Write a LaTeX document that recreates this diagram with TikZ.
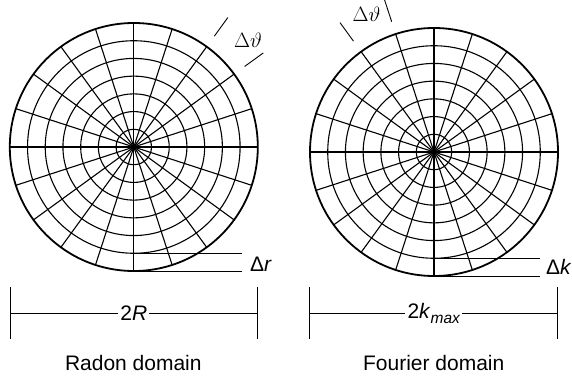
\documentclass[tikz,border=0pt]{standalone}
\usepackage{fontspec}
\setsansfont{Liberation Sans}
\begin{document}
\begin{tikzpicture}[x=1pt,y=1pt,
  grid/.style={line width=1.1pt},
  rim/.style={line width=1.8pt},
  dim/.style={line width=0.9pt},
  tick/.style={line width=0.9pt},
  sanslbl/.style={font=\sffamily\fontsize{21}{25}\selectfont, inner sep=0pt},
  mathlbl/.style={font=\fontsize{20.5}{24}\selectfont, inner sep=0pt},
  dimlbl/.style={sanslbl, fill=white, inner xsep=2pt, inner ysep=0pt}]
\useasboundingbox (0,0) rectangle (572,378);
\coordinate (cL) at (133.8,231);
\coordinate (cR) at (434,226);
% polar grids
\foreach \c in {cL,cR}{
  \foreach \i in {1,...,6} \draw[grid] (\c) circle ({\i*124pt/7});
  \foreach \a in {0,18,...,162}
    \draw[grid] ([shift={(\a:124pt)}]\c) -- ([shift={(\a+180:124pt)}]\c);
  \draw[rim] (\c) circle (124pt);
}
% Delta theta ticks, left
\draw[tick] ([shift={(54:137pt)}]cL) -- ([shift={(54:160pt)}]cL);
\draw[tick] ([shift={(36:137pt)}]cL) -- ([shift={(36:160pt)}]cL);
\node[mathlbl] (dthL) at (248,338) {$\Delta\vartheta$};
% Delta theta ticks, right
\draw[tick] ([shift={(126:137pt)}]cR) -- ([shift={(126:160pt)}]cR);
\draw[tick] ([shift={(108:137pt)}]cR) -- ([shift={(108:160pt)}]cR);
\node[mathlbl] (dthR) at (366.7,364) {$\Delta\vartheta$};
% Delta r lines
\coordinate (rL1a) at (133.8,107);     \coordinate (rL1b) at (242,107);
\coordinate (rL2a) at (133.8,124.7);   \coordinate (rL2b) at (242,124.7);
\draw[dim] (rL1a) -- (rL1b);
\draw[dim] (rL2a) -- (rL2b);
\node[sanslbl, anchor=west] (dr) at (250,114) {Δ\textit{r}};
% Delta k lines
\coordinate (kR1a) at (434,102);     \coordinate (kR1b) at (540,102);
\coordinate (kR2a) at (434,119.7);   \coordinate (kR2b) at (540,119.7);
\draw[dim] (kR1a) -- (kR1b);
\draw[dim] (kR2a) -- (kR2b);
\node[sanslbl, anchor=west] (dk) at (546,111) {Δ\textit{k}};
% dimension 2R
\coordinate (bL1t) at (10,90.7);   \coordinate (bL1b) at (10,39);
\coordinate (bL2t) at (257.7,90.7); \coordinate (bL2b) at (257.7,39);
\coordinate (bL1m) at (10,65);     \coordinate (bL2m) at (257.7,65);
\draw[dim] (bL1t) -- (bL1b);
\draw[dim] (bL2t) -- (bL2b);
\node[dimlbl] (twoR) at (133.8,65) {2\textit{R}};
\draw[dim] (bL1m) -- (twoR.west);
\draw[dim] (twoR.east) -- (bL2m);
% dimension 2k_max
\coordinate (bR1t) at (309.7,90.7);  \coordinate (bR1b) at (309.7,39);
\coordinate (bR2t) at (557.3,90.7);  \coordinate (bR2b) at (557.3,39);
\coordinate (bR1m) at (309.7,65);    \coordinate (bR2m) at (557.3,65);
\draw[dim] (bR1t) -- (bR1b);
\draw[dim] (bR2t) -- (bR2b);
\node[dimlbl] (twok) at (433.7,65) {2\textit{k}\raisebox{-5pt}{\fontsize{15.5}{18}\selectfont\itshape max}};
\draw[dim] (bR1m) -- (twok.west);
\draw[dim] (twok.east) -- (bR2m);
% captions
\node[sanslbl] (capL) at (133.3,15) {Radon domain};
\node[sanslbl] (capR) at (433.7,15) {Fourier domain};
\end{tikzpicture}
\end{document}
